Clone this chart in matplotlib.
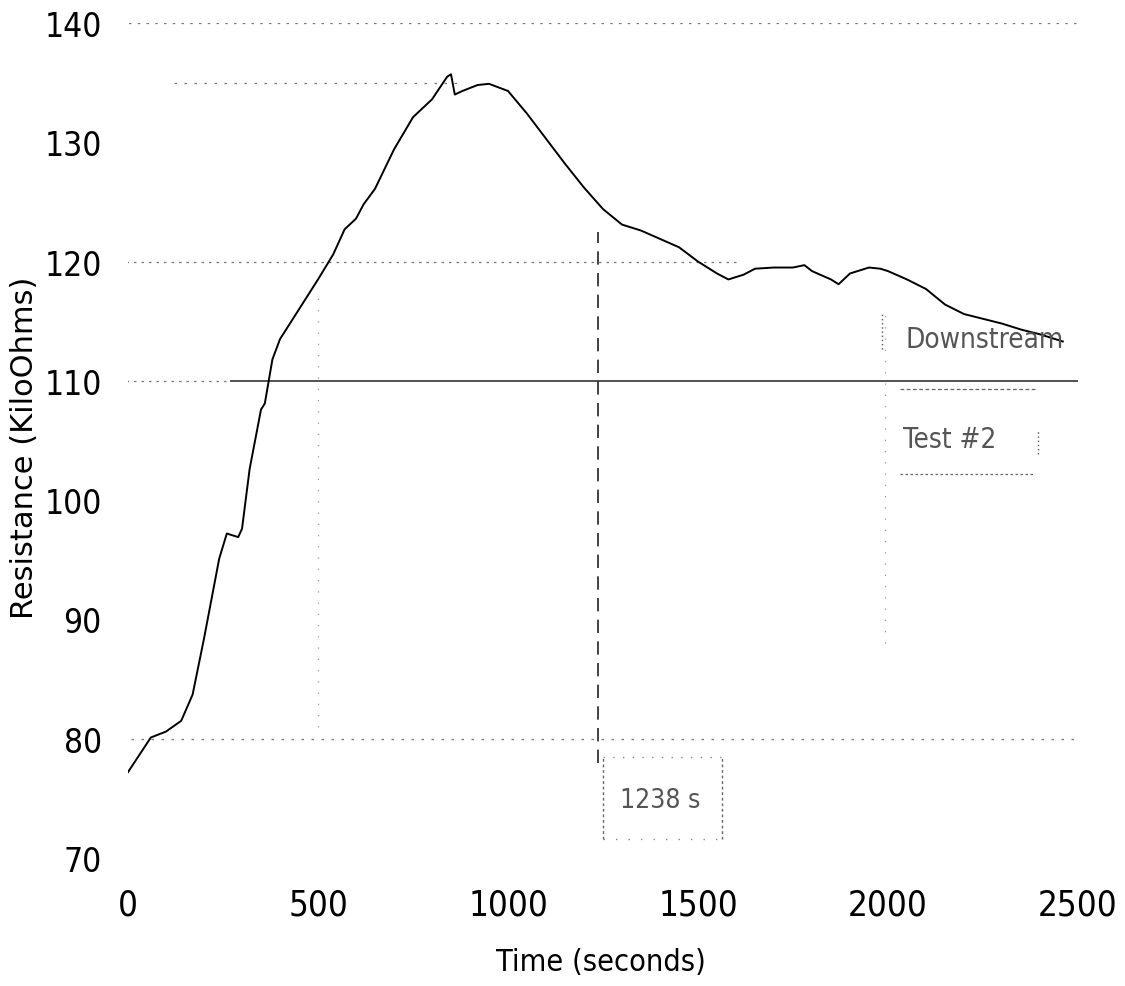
import matplotlib
matplotlib.use("Agg")
import matplotlib.pyplot as plt

# resistance trace
time_s = [0, 60, 100, 140, 170, 200, 240, 260, 290, 300, 320, 350, 360, 380,
          400, 450, 500, 540, 570, 600, 620, 650, 700, 750, 800, 840, 850,
          860, 880, 920, 950, 1000, 1050, 1100, 1150, 1200, 1250, 1300, 1350,
          1400, 1450, 1500, 1550, 1580, 1620, 1650, 1700, 1750, 1780, 1800,
          1850, 1870, 1900, 1950, 1980, 2000, 2050, 2100, 2150, 2200, 2250,
          2300, 2350, 2400, 2460]
resistance = [77.2, 80.1, 80.6, 81.5, 83.7, 88.4, 95.1, 97.2, 96.9, 97.6,
              102.6, 107.6, 108.1, 111.8, 113.5, 116.0, 118.5, 120.6, 122.7,
              123.6, 124.8, 126.1, 129.4, 132.1, 133.6, 135.5, 135.7, 134.0,
              134.3, 134.8, 134.9, 134.3, 132.4, 130.3, 128.2, 126.2, 124.4,
              123.1, 122.6, 121.9, 121.2, 120.0, 119.0, 118.5, 118.9, 119.4,
              119.5, 119.5, 119.7, 119.2, 118.5, 118.1, 119.0, 119.5, 119.4,
              119.2, 118.5, 117.7, 116.4, 115.6, 115.2, 114.8, 114.3, 113.9,
              113.3]

x_ticks = [0, 500, 1000, 1500, 2000, 2500]
y_ticks = [70, 80, 90, 100, 110, 120, 130, 140]
mark_time = 1238

cond = dict(family="DejaVu Sans", stretch="condensed")

fig = plt.figure(figsize=(11.25, 9.87), dpi=100)
ax = fig.add_axes([0.1138, 0.1297, 0.8444, 0.846])
ax.set_xlim(0, 2500)
ax.set_ylim(70, 140)
for s in ax.spines.values():
    s.set_visible(False)

# dotted grid as on the scan
ax.hlines(140, -45, 2500, colors="#777777", linestyles=(0, (2, 5)), lw=0.9)
ax.hlines(135, 120, 880, colors="#777777", linestyles=(0, (2, 6)), lw=0.9)
ax.hlines(120, -45, 1600, colors="#777777", linestyles=(0, (2, 4)), lw=0.9)
ax.hlines(110, -45, 268, colors="#777777", linestyles=(0, (2, 4)), lw=0.9)
ax.hlines(110, 268, 2500, colors="#222222", lw=1.1)
ax.hlines(80, -45, 2500, colors="#777777", linestyles=(0, (2, 6)), lw=0.9)

ax.vlines(mark_time, 78, 122.5, colors="#222222", linestyles=(0, (8, 5)), lw=1.2)
ax.vlines(500, 81, 117, colors="#999999", linestyles=(0, (1, 8)), lw=0.9)
ax.vlines(1992, 88, 116, colors="#999999", linestyles=(0, (1, 8)), lw=0.9)

ax.plot(time_s, resistance, color="black", lw=1.4)

# annotation boxes
ax.vlines(1984, 112.7, 115.6, colors="#555555", linestyles=(0, (1, 2)), lw=1)
ax.text(2045, 113.5, "Downstream", fontsize=20, color="#555555",
        va="center", ha="left", **cond)
ax.hlines(109.3, 2031, 2387, colors="#666666", linestyles=(0, (3, 2)), lw=0.9)
ax.text(2163, 105.1, "Test #2", fontsize=20, color="#555555",
        va="center", ha="center", **cond)
ax.vlines(2395, 103.9, 106, colors="#555555", linestyles=(0, (1, 2)), lw=1)
ax.hlines(102.2, 2031, 2387, colors="#666666", linestyles=(0, (2, 2)), lw=0.9)

ax.vlines(1250, 71.6, 78.5, colors="#666666", linestyles=(0, (2, 2)), lw=1)
ax.vlines(1563, 71.6, 78.5, colors="#666666", linestyles=(0, (2, 2)), lw=1)
ax.hlines(78.5, 1250, 1563, colors="#888888", linestyles=(0, (1, 6)), lw=1)
ax.hlines(71.6, 1250, 1563, colors="#888888", linestyles=(0, (1, 8)), lw=1)
ax.text(1400, 74.9, "1238 s", fontsize=19, color="#555555",
        va="center", ha="center", **cond)

ax.set_xticks(x_ticks)
ax.set_yticks(y_ticks)
ax.tick_params(axis="x", length=0, pad=21)
ax.tick_params(axis="y", length=0, pad=19)
for lab in ax.get_xticklabels():
    lab.set_fontsize(25)
    lab.set_family("DejaVu Sans")
    lab.set_stretch("condensed")
for lab in ax.get_yticklabels():
    lab.set_fontsize(24)
    lab.set_family("DejaVu Sans")
    lab.set_stretch("condensed")

fig.text(601 / 1125, 1 - 963 / 987, "Time (seconds)", fontsize=22,
         ha="center", va="center", **cond)
fig.text(25 / 1125, 1 - 448 / 987, "Resistance (KiloOhms)", fontsize=22,
         rotation=90, ha="center", va="center", family="DejaVu Sans")

fig.savefig("out.png", dpi=100)
